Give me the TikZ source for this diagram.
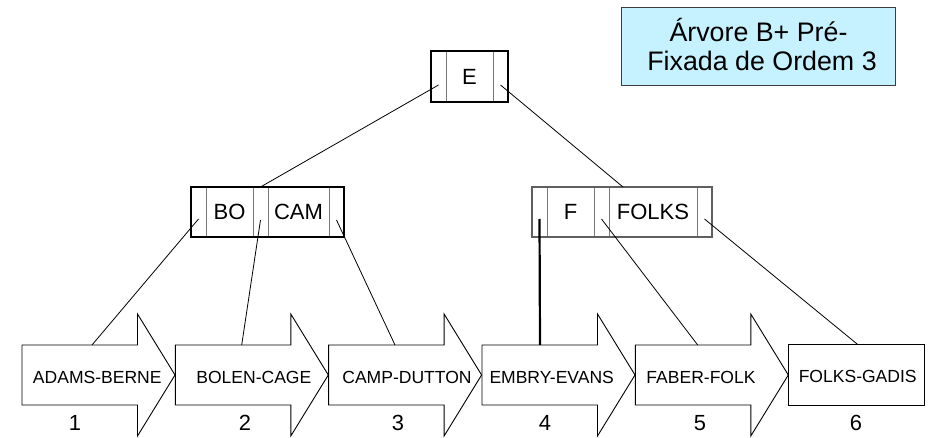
\documentclass[tikz,border=0pt]{standalone}
\usepackage{fontspec}
\setmainfont{Liberation Sans}
\definecolor{divgray}{RGB}{120,120,120}
\definecolor{fgray}{RGB}{95,95,95}
\definecolor{titlefill}{RGB}{198,242,255}
\definecolor{titledraw}{RGB}{60,60,60}
\begin{document}
\begin{tikzpicture}[x=1bp,y=-1bp,
  kcell/.style={draw=divgray, line width=0.9bp, minimum height=#1, inner sep=0pt, outer sep=0pt, anchor=north west, font=\fontsize{22.1}{24}\selectfont},
  kcell/.default=50bp,
  outerbox/.style={draw=black, line width=1.1bp},
  link/.style={draw=black, line width=0.8bp},
  thicklink/.style={draw=black, line width=2.2bp},
  leaf/.style={draw=black, fill=white, line width=0.9bp, line join=miter},
  leaftext/.style={inner sep=0pt, font=\fontsize{17.6}{20}\selectfont},
  numtext/.style={inner sep=0pt, font=\fontsize{22}{24}\selectfont},
  titlebox/.style={draw=titledraw, fill=titlefill, line width=0.9bp, minimum width=274bp, minimum height=78bp, inner sep=0pt},
  titletext/.style={inner sep=0pt, anchor=base, font=\fontsize{26.9}{30}\selectfont}
]
\useasboundingbox (0,0) rectangle (932,438);

% title
\node[titlebox] (T) at (758,46.5) {};
\node[titletext] (T1) at (758.5,41.7) {Árvore B+ Pré-};
\node[titletext] (T2) at (762,70.7) {Fixada de Ordem 3};

% root node
\node[kcell=51bp, minimum width=15bp] (Ea) at (431,51) {};
\node[kcell=51bp, minimum width=47bp] (Ek) at (446,51) {E};
\node[kcell=51bp, minimum width=15bp] (Eb) at (493,51) {};
\draw[outerbox] (Ea.north west) rectangle (Eb.south east);

% left inner node
\node[kcell, minimum width=15bp] (Ba) at (191,187) {};
\node[kcell, minimum width=47bp] (Bk1) at (206,187) {BO};
\node[kcell, minimum width=15bp] (Bb) at (253,187) {};
\node[kcell, minimum width=61bp] (Bk2) at (268,187) {CAM};
\node[kcell, minimum width=15bp] (Bc) at (329,187) {};
\draw[outerbox] (Ba.north west) rectangle (Bc.south east);

% right inner node
\node[kcell, minimum width=15bp] (Fa) at (532,187) {};
\node[kcell, minimum width=47bp] (Fk1) at (547,187) {F};
\node[kcell, minimum width=15bp] (Fb) at (594,187) {};
\node[kcell, minimum width=88bp] (Fk2) at (609,187) {FOLKS};
\node[kcell, minimum width=15bp] (Fc) at (697,187) {};
\draw[outerbox, draw=fgray] (Fa.north west) rectangle (Fc.south east);

% leaves
\draw[leaf] (22,345) -- ++(115.5,0) -- ++(0,-31) -- ++(37.5,61) -- ++(-37.5,61) -- ++(0,-31) -- ++(-115.5,0) -- cycle;
\draw[leaf] (175.3,345) -- ++(115.5,0) -- ++(0,-31) -- ++(37.5,61) -- ++(-37.5,61) -- ++(0,-31) -- ++(-115.5,0) -- cycle;
\draw[leaf] (328.6,345) -- ++(115.5,0) -- ++(0,-31) -- ++(37.5,61) -- ++(-37.5,61) -- ++(0,-31) -- ++(-115.5,0) -- cycle;
\draw[leaf] (482,345) -- ++(115.5,0) -- ++(0,-31) -- ++(37.5,61) -- ++(-37.5,61) -- ++(0,-31) -- ++(-115.5,0) -- cycle;
\draw[leaf] (635.3,345) -- ++(115.5,0) -- ++(0,-31) -- ++(37.5,61) -- ++(-37.5,61) -- ++(0,-31) -- ++(-115.5,0) -- cycle;
\draw[leaf] (788.6,344.5) rectangle (924.3,405.5);

\coordinate (L1) at (92,345);
\coordinate (L2) at (241.7,345);
\coordinate (L3) at (395,345);
\coordinate (L4) at (540,345);
\coordinate (L5) at (697.7,345);
\coordinate (L6) at (857.7,344.5);

\node[leaftext] (N1) at (97.3,377.5) {ADAMS-BERNE};
\node[leaftext] (N2) at (253.8,377.5) {BOLEN-CAGE};
\node[leaftext] (N3) at (407,377.5) {CAMP-DUTTON};
\node[leaftext] (N4) at (551.7,377.5) {EMBRY-EVANS};
\node[leaftext] (N5) at (701,377.5) {FABER-FOLK};
\node[leaftext] (N6) at (857.7,376.5) {FOLKS-GADIS};

\node[numtext] (D1) at (75,423) {1};
\node[numtext] (D2) at (245,423) {2};
\node[numtext] (D3) at (398,423) {3};
\node[numtext] (D4) at (545,423) {4};
\node[numtext] (D5) at (700,423) {5};
\node[numtext] (D6) at (856,423) {6};

% connectors
\draw[link] ([yshift=-8.5bp]Ea.center) -- (Bb.north);
\draw[link] ([yshift=-8.5bp]Eb.center) -- ([xshift=14bp]Fk2.north west);
\draw[link] ([yshift=-7bp]Ba.center) -- (L1);
\draw[link] ([yshift=-8bp]Bb.center) -- (L2);
\draw[link] ([yshift=-8bp]Bc.center) -- (L3);
\draw[thicklink] ([yshift=-7bp]Fa.center) -- (L4);
\draw[link] ([yshift=-7bp]Fb.center) -- (L5);
\draw[link] ([yshift=-7bp]Fc.center) -- (L6);
\end{tikzpicture}
\end{document}
